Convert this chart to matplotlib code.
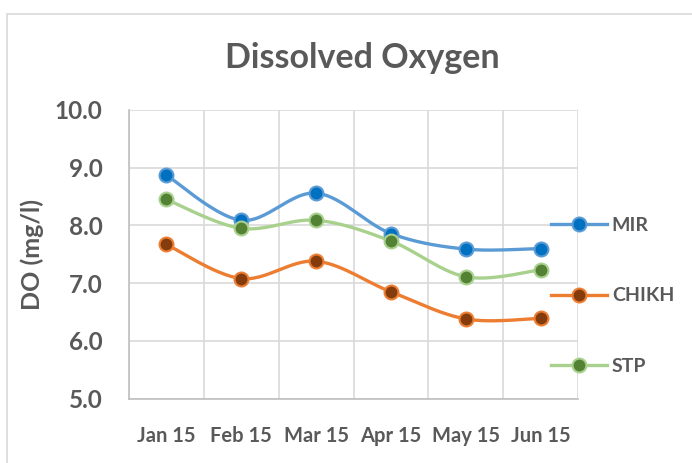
import numpy as np
import matplotlib.pyplot as plt
from matplotlib.patches import Rectangle

months = ["Jan 15", "Feb 15", "Mar 15", "Apr 15", "May 15", "Jun 15"]
mir = [8.87, 8.09, 8.56, 7.86, 7.59, 7.60]
chikh = [7.67, 7.08, 7.38, 6.85, 6.38, 6.39]
stp = [8.45, 7.95, 8.09, 7.73, 7.11, 7.23]

series = [
    ("MIR", mir, "#5B9BD5", "#0070C0"),
    ("CHIKH", chikh, "#ED7D31", "#843C0C"),
    ("STP", stp, "#A9D18E", "#548235"),
]

txt = "#595959"
plt.rcParams['font.family'] = ['Lato', 'DejaVu Sans']


def smooth(x, y, n=30):
    # excel-like smoothed line (catmull-rom through the points)
    x = np.asarray(x, float)
    y = np.asarray(y, float)
    px = np.concatenate([[x[0]], x, [x[-1]]])
    py = np.concatenate([[y[0]], y, [y[-1]]])
    xs, ys = [], []
    for i in range(1, len(px) - 2):
        p0, p1, p2, p3 = (np.array([px[j], py[j]]) for j in (i - 1, i, i + 1, i + 2))
        c1 = p1 + (p2 - p0) / 6
        c2 = p2 - (p3 - p1) / 6
        t = np.linspace(0, 1, n)[:, None]
        b = (1 - t) ** 3 * p1 + 3 * (1 - t) ** 2 * t * c1 + 3 * (1 - t) * t ** 2 * c2 + t ** 3 * p2
        xs.extend(b[:, 0])
        ys.extend(b[:, 1])
    return xs, ys


fig = plt.figure(figsize=(6.92, 4.63), dpi=100)
fig.patches.append(Rectangle((7 / 692, -0.1), 1.1, 1 - 14 / 463 + 0.1, transform=fig.transFigure,
                             fill=False, edgecolor="#D9D9D9", linewidth=1.2))
ax = fig.add_axes([129 / 692, 1 - 398.6 / 463, 449 / 692, 288.6 / 463])

x = np.arange(len(months))
for name, vals, lc, fc in series:
    sx, sy = smooth(x, vals)
    ax.plot(sx, sy, color=lc, linewidth=2.4, solid_capstyle="round", zorder=3)
    ax.plot(x, vals, linestyle="none", marker="o", markersize=10, markerfacecolor=fc,
            markeredgecolor=lc, markeredgewidth=1.5, zorder=4)
    ax.plot([], [], color=lc, linewidth=2.4, marker="o", markersize=10, markerfacecolor=fc,
            markeredgecolor=lc, markeredgewidth=1.5, label=name)

ax.set_xlim(-0.5, len(months) - 0.5)
ax.set_ylim(5, 10)
yt = np.arange(5, 10.01, 1.0)
ax.set_yticks(yt)
ax.set_yticklabels([f"{v:.1f}" for v in yt], fontsize=17.5, fontweight="bold", color=txt)
ax.set_xticks(x)
ax.set_xticklabels(months, fontsize=14.5, fontweight="bold", color=txt)
ax.set_xticks(np.arange(-0.5, len(months), 1.0), minor=True)
ax.grid(True, which="minor", axis="x", color="#D9D9D9", linewidth=1.2)
ax.grid(True, which="major", axis="y", color="#D9D9D9", linewidth=1.2)
ax.tick_params(axis="y", which="both", length=0, pad=19)
ax.tick_params(axis="x", which="both", length=0, pad=20)
for s in ["top", "right"]:
    ax.spines[s].set_visible(False)
for s in ["left", "bottom"]:
    ax.spines[s].set_color("#BFBFBF")
    ax.spines[s].set_linewidth(1.2)
ax.set_axisbelow(True)

ax.set_ylabel("DO (mg/l)", fontsize=18, fontweight="bold", color=txt, labelpad=8)
fig.text(0.523, 1 - 58 / 463, "Dissolved Oxygen", ha="center", va="center",
         fontsize=24.5, fontweight="bold", color=txt)

leg = ax.legend(loc="upper left", bbox_to_anchor=(0.9, 0.69), frameon=False,
                handlelength=2.9, labelspacing=2.75, handletextpad=0.25,
                prop={"size": 14, "weight": "bold"})
for t in leg.get_texts():
    t.set_color(txt)
    t.set_fontweight("bold")

fig.savefig("out.png", dpi=100)
